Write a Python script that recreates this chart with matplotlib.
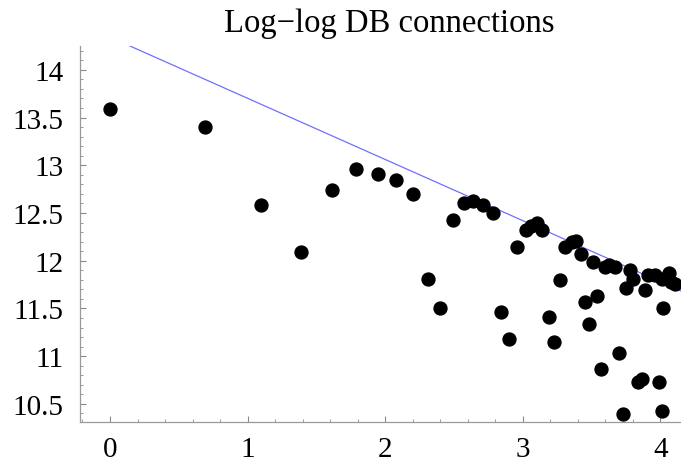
import numpy as np
import matplotlib
matplotlib.use("Agg")
import matplotlib.pyplot as plt
from matplotlib.ticker import MultipleLocator

# log(rank) vs log(connections)
log_rank = [0.00, 0.69, 1.10, 1.39, 1.61, 1.79, 1.95, 2.08, 2.20, 2.31,
            2.40, 2.49, 2.57, 2.64, 2.71, 2.78, 2.84, 2.90, 2.96, 3.02,
            3.06, 3.10, 3.14, 3.19, 3.23, 3.27, 3.31, 3.36, 3.39, 3.42,
            3.45, 3.48, 3.51, 3.54, 3.57, 3.60, 3.63, 3.67, 3.70, 3.73,
            3.75, 3.78, 3.80, 3.84, 3.87, 3.89, 3.91, 3.96, 3.99, 4.01,
            4.01, 4.02, 4.06, 4.08, 4.11]
log_conn = [13.59, 13.40, 12.58, 12.09, 12.74, 12.96, 12.91, 12.85, 12.70, 11.81,
            11.50, 12.43, 12.60, 12.63, 12.58, 12.50, 11.46, 11.18, 12.14, 12.32,
            12.36, 12.40, 12.32, 11.41, 11.15, 11.80, 12.14, 12.20, 12.21, 12.07,
            11.57, 11.34, 11.99, 11.63, 10.86, 11.93, 11.96, 11.93, 11.03, 10.39,
            11.71, 11.90, 11.81, 10.73, 10.76, 11.69, 11.85, 11.85, 10.73, 10.42,
            11.81, 11.50, 11.87, 11.78, 11.76]

# fitted line  y = fit_a + fit_b * x
fit_a = 14.343
fit_b = -0.641

plt.rcParams['font.family'] = ['Liberation Serif', 'DejaVu Serif']

fig = plt.figure(figsize=(6.81, 4.64), dpi=100)
ax = fig.add_axes([0.1175, 0.0884, 0.8825, 0.8103])

xl = (-0.218, 4.15)
ax.set_xlim(*xl)
ax.set_ylim(10.31, 14.25)

xs = np.array(xl)
ax.plot(xs, fit_a + fit_b * xs, color='#7070ff', lw=0.9, zorder=2)
ax.plot(log_rank, log_conn, 'o', color='black', ms=9.3, mec='black', zorder=3)

for s in ['top', 'right']:
    ax.spines[s].set_visible(False)
for s in ['left', 'bottom']:
    ax.spines[s].set_color('#999999')
    ax.spines[s].set_linewidth(0.9)

ax.xaxis.set_major_locator(MultipleLocator(1))
ax.xaxis.set_minor_locator(MultipleLocator(0.2))
ax.yaxis.set_minor_locator(MultipleLocator(0.1))
ax.set_yticks([10.5, 11, 11.5, 12, 12.5, 13, 13.5, 14])
ax.set_yticklabels(['10.5', '11', '11.5', '12', '12.5', '13', '13.5', '14'])
ax.tick_params(which='major', direction='in', length=4, width=0.8, color='#888888',
               labelsize=21)
ax.tick_params(which='minor', direction='in', length=2.5, width=0.7, color='#999999')
ax.tick_params(axis='y', pad=12)
ax.tick_params(axis='x', pad=10)

fig.text(0.571, 0.948, 'Log\u2212log DB connections', ha='center', va='center', fontsize=23.5)

fig.savefig('out.png', dpi=100)
